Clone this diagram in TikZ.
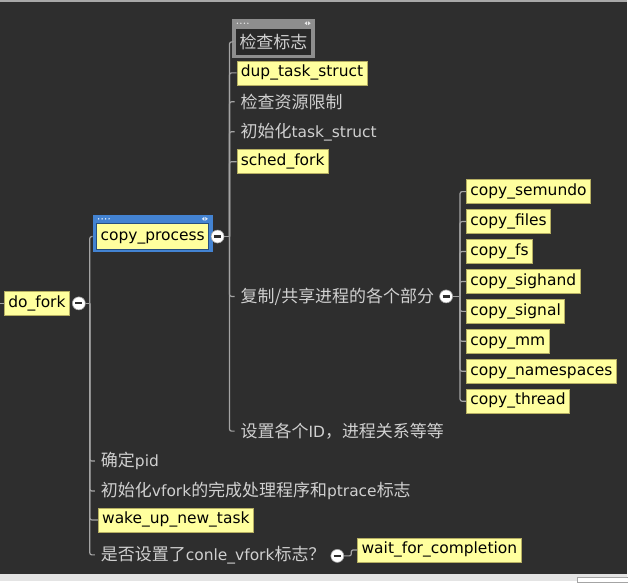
\documentclass[tikz,border=0pt]{standalone}
\usepackage{fontspec}
\setmainfont{DejaVu Sans}
\newfontfamily\cjk{Noto Sans CJK SC}
\newcommand{\zhtxt}[1]{{\cjk\fontsize{17}{20}\selectfont #1}}

\definecolor{bgdark}{HTML}{2E2E2E}
\definecolor{boxdark}{HTML}{292929}
\definecolor{leafyellow}{HTML}{FFFF9E}
\definecolor{leafedge}{HTML}{B5AE62}
\definecolor{linegray}{HTML}{A4A4A4}
\definecolor{notegray}{HTML}{D0D0D0}
\definecolor{framegray}{HTML}{8E8E8E}
\definecolor{frameblue}{HTML}{4383D2}
\definecolor{stripgray}{HTML}{E4E4E4}
\definecolor{topgray}{HTML}{A8A8A8}

\tikzset{
  leaf/.style={draw=leafedge,line width=0.6pt,fill=leafyellow,text=black,anchor=west,
    inner xsep=4pt,inner ysep=0pt,text height=11pt,text depth=3.5pt,minimum height=24pt},
  note/.style={text=notegray,anchor=west,inner xsep=6pt,inner ysep=0pt,minimum height=20pt},
  fold/.style={circle,fill=white,draw=linegray,line width=0.6pt,minimum size=13pt,inner sep=0pt,
    path picture={\draw[line width=2.2pt,bgdark] ([xshift=-3.6pt]path picture bounding box.center)
      -- ([xshift=3.6pt]path picture bounding box.center);}},
  branch/.style={draw=linegray,line width=1.2pt,rounded corners=2pt},
}

\begin{document}
\begin{tikzpicture}[x=1pt,y=-1pt,font=\fontsize{15.5}{18}\selectfont]
% Screen
\fill[bgdark] (0,0) rectangle (628,582);
\fill[topgray] (0,0) rectangle (628,2.5);
\fill[stripgray] (0,575) rectangle (628,582);
\filldraw[fill=white,draw=linegray,line width=0.5pt] (578,578) rectangle (629,583);
\useasboundingbox (0,0) rectangle (628,582);

% do_fork
\coordinate (stub) at (0,304);
\node[leaf] (dofork) at (4,304) {do\_fork};
\node[fold] (dofork-fold) at (79,304) {};
\coordinate (dofork-trunk) at (90,304);

% copy_process (selected, blue frame)
\node[fill=frameblue,minimum width=120pt,minimum height=38pt,inner sep=0pt] (cp-frame) at (153,234) {};
\node[leaf,anchor=center,minimum width=111pt,minimum height=26pt,draw=frameblue!60!black]
  (cp) at ([yshift=-3pt]cp-frame.center) {copy\_process};
\foreach \i in {0,...,3}
  \fill[white!85!frameblue] ([xshift=\i*3.5pt+6pt,yshift=-4.5pt]cp-frame.north west) circle (0.8pt);
\fill[white!85!frameblue] ([xshift=-11pt,yshift=-4.5pt]cp-frame.north east) -- ++(2.5pt,2pt) -- ++(0pt,-4pt) -- cycle;
\fill[white!85!frameblue] ([xshift=-5pt,yshift=-4.5pt]cp-frame.north east) -- ++(-2.5pt,2pt) -- ++(0pt,-4pt) -- cycle;
\node[fold] (cp-fold) at (218,237) {};
\coordinate (cp-trunk) at (230,237);

% children of copy_process
\node[fill=framegray,minimum width=84pt,minimum height=39pt,inner sep=0pt] (check-frame) at (274,38.5) {};
\node[fill=boxdark,text=notegray,minimum width=76pt,minimum height=26pt,inner sep=0pt]
  (check) at ([yshift=-3.5pt]check-frame.center) {\zhtxt{检查标志}};
\foreach \i in {0,...,3}
  \fill[white!80!framegray] ([xshift=\i*3.5pt+6pt,yshift=-4.5pt]check-frame.north west) circle (0.8pt);
\fill[white!80!framegray] ([xshift=-11pt,yshift=-4.5pt]check-frame.north east) -- ++(2.5pt,2pt) -- ++(0pt,-4pt) -- cycle;
\fill[white!80!framegray] ([xshift=-5pt,yshift=-4.5pt]check-frame.north east) -- ++(-2.5pt,2pt) -- ++(0pt,-4pt) -- cycle;
\node[leaf] (dup) at (237,73) {dup\_task\_struct};
\node[note] (limit) at (235,102) {\zhtxt{检查资源限制}};
\node[note] (init) at (235,132) {\zhtxt{初始化}task\_struct};
\node[leaf] (sched) at (237,162) {sched\_fork};
\node[note] (share) at (235,297) {\zhtxt{复制/共享进程的各个部分}};
\node[note] (ids) at (235,432) {\zhtxt{设置各个}ID\zhtxt{，进程关系等等}};
\node[fold] (share-fold) at (447,297) {};
\coordinate (share-trunk) at (461,297);

% parts that are copied or shared
\foreach \part [count=\k from 0] in {semundo,files,fs,sighand,signal,mm,namespaces,thread}
  \node[leaf] (part-\k) at (467,192+30*\k) {copy\_\part};

% rest of do_fork
\node[note] (pid) at (95,462) {\zhtxt{确定}pid};
\node[note] (vfork) at (95,492) {\zhtxt{初始化}vfork\zhtxt{的完成处理程序和}ptrace\zhtxt{标志}};
\node[leaf] (wakeup) at (98,521) {wake\_up\_new\_task};
\node[note] (clone) at (95,556) {\zhtxt{是否设置了}conle\_vfork\zhtxt{标志？}};
\node[fold] (clone-fold) at (338,557) {};
\coordinate (clone-trunk) at (352,557);
\node[leaf] (wait) at (358,551) {wait\_for\_completion};

% Tree lines
\draw[branch] (stub) -- (dofork.west);
\draw[branch] (dofork-fold) -- (dofork-trunk);
\draw[branch] (dofork-trunk) |- (cp-frame.west |- cp.west);
\foreach \c in {pid,vfork,wakeup,clone}
  \draw[branch] (dofork-trunk) |- (\c.west);
\draw[branch] (cp-fold) -- (cp-trunk);
\draw[branch] (cp-trunk) |- (check-frame.west |- check.west);
\foreach \c in {dup,limit,init,sched,share,ids}
  \draw[branch] (cp-trunk) |- (\c.west);
\draw[branch] (share-fold) -- (share-trunk);
\foreach \k in {0,...,7}
  \draw[branch] (share-trunk) |- (part-\k.west);
\draw[branch] (clone-fold) -- (clone-trunk) |- (wait.west);
\end{tikzpicture}
\end{document}
